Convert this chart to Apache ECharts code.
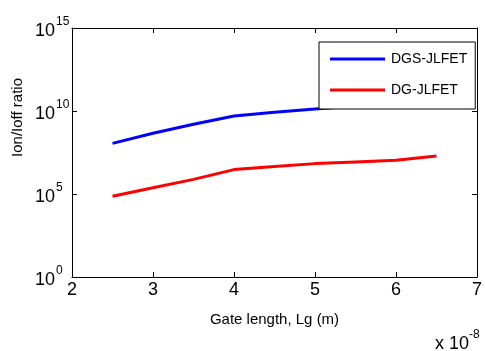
<!DOCTYPE html>
<html>
<head>
<meta charset="utf-8">
<script src="https://cdn.jsdelivr.net/npm/echarts@6/dist/echarts.min.js"></script>
<style>
  html, body { margin: 0; padding: 0; background: #fff; }
  #chart { width: 485px; height: 351px; }
</style>
</head>
<body>
<div id="chart"></div>
<script>
// gate length in units of 1e-8 m
const gateLength = [2.5, 3, 3.5, 4, 4.5, 5, 5.5, 6, 6.5]
// Ion/Ioff ratio, read as log10 from the picture
const dgsLog = [8.05, 8.66, 9.2, 9.7, 9.92, 10.12, 10.3, 10.45, 10.6]
const dgLog = [4.86, 5.38, 5.88, 6.47, 6.65, 6.83, 6.93, 7.03, 7.29]
const xTicks = [2, 3, 4, 5, 6, 7]
const yExps = [0, 5, 10, 15]

const font = '"Liberation Sans", Arial, sans-serif'
const toPairs = (logs) => gateLength.map((x, i) => [x, Math.pow(10, logs[i])])

const chart = echarts.init(document.getElementById('chart'))

const option = {
    animation: false,
    backgroundColor: '#fff',
    textStyle: { fontFamily: font },
    grid: { left: 72, right: 6, top: 28, bottom: 74, containLabel: false },
    legend: {
        orient: 'vertical',
        left: 319,
        top: 42,
        padding: [10, 8, 12, 11],
        itemGap: 17,
        itemWidth: 55,
        itemHeight: 3,
        icon: 'rect',
        backgroundColor: '#fff',
        borderColor: '#000',
        borderWidth: 1,
        borderRadius: 0,
        textStyle: { fontFamily: font, fontSize: 14, color: '#000', padding: [0, 0, 0, 1] },
        data: ['DGS-JLFET', 'DG-JLFET']
    },
    xAxis: [
        {
            type: 'value',
            min: xTicks[0],
            max: xTicks[xTicks.length - 1],
            interval: 1,
            name: 'Gate length, Lg (m)',
            nameLocation: 'middle',
            nameGap: 35,
            nameTextStyle: { fontFamily: font, fontSize: 15, color: '#000' },
            axisLine: { lineStyle: { color: '#000', width: 1 } },
            axisTick: { inside: true, length: 5, lineStyle: { color: '#000' } },
            axisLabel: { fontFamily: font, fontSize: 18, color: '#000', margin: 4 },
            splitLine: { show: false }
        },
        {
            type: 'value',
            position: 'top',
            min: xTicks[0],
            max: xTicks[xTicks.length - 1],
            interval: 1,
            axisLine: { lineStyle: { color: '#000', width: 1 } },
            axisTick: { inside: true, length: 5, lineStyle: { color: '#000' } },
            axisLabel: { show: false },
            splitLine: { show: false }
        }
    ],
    yAxis: [
        {
            type: 'log',
            logBase: 10,
            min: Math.pow(10, yExps[0]),
            max: Math.pow(10, yExps[yExps.length - 1]),
            interval: 5,
            axisLine: { show: true, lineStyle: { color: '#000', width: 1 } },
            axisTick: { show: true, inside: true, length: 5, lineStyle: { color: '#000' } },
            axisLabel: {
                align: 'left',
                margin: 37,
                color: '#000',
                formatter: (v) => '{b|10}{s|' + Math.round(Math.log10(v)) + '}',
                rich: {
                    b: { fontFamily: font, fontSize: 18, color: '#000', padding: [6, 0, 0, 0] },
                    s: { fontFamily: font, fontSize: 12, color: '#000', verticalAlign: 'top', padding: [0, 0, 10, 1] }
                }
            },
            splitLine: { show: false }
        },
        {
            type: 'log',
            logBase: 10,
            position: 'right',
            min: Math.pow(10, yExps[0]),
            max: Math.pow(10, yExps[yExps.length - 1]),
            interval: 5,
            axisLine: { show: true, lineStyle: { color: '#000', width: 1 } },
            axisTick: { show: true, inside: true, length: 5, lineStyle: { color: '#000' } },
            axisLabel: { show: false },
            splitLine: { show: false }
        }
    ],
    graphic: [
        {
            type: 'text',
            left: 10,
            top: 78,
            rotation: Math.PI / 2,
            style: { text: 'Ion/Ioff ratio', font: '15px ' + font, fill: '#000' }
        },
        {
            type: 'text',
            left: 435,
            top: 329,
            style: {
                text: '{b|x 10}{s|-8}',
                rich: {
                    b: { fontFamily: font, fontSize: 18, fill: '#000', padding: [6, 0, 0, 0] },
                    s: { fontFamily: font, fontSize: 12, fill: '#000', verticalAlign: 'top' }
                }
            }
        }
    ],
    series: [
        {
            name: 'DGS-JLFET',
            type: 'line',
            data: toPairs(dgsLog),
            symbol: 'none',
            z: 2,
            lineStyle: { color: '#0000ff', width: 3 },
            itemStyle: { color: '#0000ff' }
        },
        {
            name: 'DG-JLFET',
            type: 'line',
            data: toPairs(dgLog),
            symbol: 'none',
            z: 2,
            lineStyle: { color: '#ff0000', width: 3 },
            itemStyle: { color: '#ff0000' }
        }
    ]
}

chart.setOption(option)
</script>
</body>
</html>
